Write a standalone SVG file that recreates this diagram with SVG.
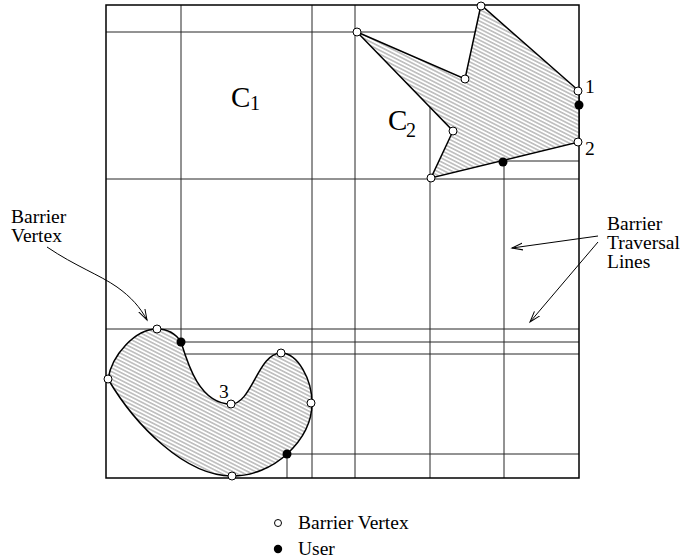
<svg xmlns="http://www.w3.org/2000/svg" width="680" height="560" viewBox="0 0 680 560">
<style>
.grid{stroke:#262626;stroke-width:1;fill:none}
.border{stroke:#000;stroke-width:1.5;fill:none}
.obst{stroke:#000;stroke-width:1.5;fill:url(#hatch)}
.vtx{stroke:#000;stroke-width:1;fill:#fff}
.usr{fill:#000;stroke:none}
.t{font-family:"Liberation Serif","Times New Roman",serif;fill:#000}
.lbl{font-size:19.5px}
.ann{stroke:#000;stroke-width:1;fill:none;marker-end:url(#arr)}
</style>
<defs>
<pattern id="hatch" patternUnits="userSpaceOnUse" width="8" height="3.4" patternTransform="rotate(27)">
<rect width="8" height="3.4" fill="#fff"/>
<line x1="0" y1="1.7" x2="8" y2="1.7" stroke="#5a5a5a" stroke-width="0.7"/>
</pattern>
<marker id="arr" markerUnits="userSpaceOnUse" markerWidth="14" markerHeight="10" refX="11" refY="4" orient="auto">
<path d="M0,0.5 L11,4 L0,7.5" fill="none" stroke="#000" stroke-width="1"/>
</marker>
</defs>

<g id="grid">
<line class="grid" x1="181" y1="5" x2="181" y2="342"/>
<line class="grid" x1="312" y1="5" x2="312" y2="478"/>
<line class="grid" x1="355" y1="5" x2="355" y2="478"/>
<line class="grid" x1="430" y1="106" x2="430" y2="478"/>
<line class="grid" x1="504" y1="162" x2="504" y2="478"/>
<line class="grid" x1="287" y1="454" x2="287" y2="478"/>
<line class="grid" x1="106" y1="32" x2="475" y2="32"/>
<line class="grid" x1="106" y1="179" x2="579" y2="179"/>
<line class="grid" x1="504" y1="161" x2="579" y2="161"/>
<line class="grid" x1="106" y1="329" x2="579" y2="329"/>
<line class="grid" x1="181" y1="342" x2="579" y2="342"/>
<line class="grid" x1="184" y1="354" x2="579" y2="354"/>
<line class="grid" x1="287" y1="454" x2="579" y2="454"/>
<rect class="border" x="106" y="5" width="473" height="473"/>
</g>

<g id="obstacle-C2">
<polygon class="obst" points="357,32 465,79 481,5 579,91 579,142 431,178 453,131"/>
</g>
<g id="obstacle-blob">
<path class="obst" d="M108,379 C112,355 135,329 157,329 C168,329 176,334 181,342 C188,365 200,404 231,404 C252,404 258,353 281,353 C298,353 312,380 312,403 C312,425 300,442 287,454 C272,468 252,476 232,476 C185,476 135,425 108,379 Z"/>
</g>

<g id="vertices">
<circle class="vtx" cx="357" cy="32" r="4"/>
<circle class="vtx" cx="465" cy="79" r="4"/>
<circle class="vtx" cx="481" cy="6" r="4"/>
<circle class="vtx" cx="578" cy="91" r="4"/>
<circle class="vtx" cx="578" cy="142" r="4"/>
<circle class="vtx" cx="431" cy="178" r="4"/>
<circle class="vtx" cx="453" cy="131" r="4"/>
<circle class="vtx" cx="157" cy="329" r="4"/>
<circle class="vtx" cx="108" cy="379" r="4"/>
<circle class="vtx" cx="231" cy="404" r="4"/>
<circle class="vtx" cx="281" cy="353" r="4"/>
<circle class="vtx" cx="311" cy="403" r="4"/>
<circle class="vtx" cx="232" cy="476" r="4"/>
</g>
<g id="users">
<circle class="usr" cx="579" cy="105" r="4.5"/>
<circle class="usr" cx="503" cy="162" r="4.5"/>
<circle class="usr" cx="181" cy="342" r="4.5"/>
<circle class="usr" cx="287" cy="454" r="4.5"/>
</g>

<g id="labels">
<text class="t" x="231" y="107" font-size="29">C</text><text class="t" x="250" y="110" font-size="20">1</text>
<text class="t" x="388" y="130" font-size="29">C</text><text class="t" x="406" y="137" font-size="20">2</text>
<text class="t lbl" x="585" y="93">1</text>
<text class="t lbl" x="585" y="155">2</text>
<text class="t lbl" x="219" y="398">3</text>
</g>

<g id="label-barrier-vertex">
<text class="t lbl" x="11" y="223">Barrier</text>
<text class="t lbl" x="11" y="242">Vertex</text>
</g>
<g id="label-traversal">
<text class="t lbl" x="607" y="230">Barrier</text>
<text class="t lbl" x="607" y="249">Traversal</text>
<text class="t lbl" x="607" y="268">Lines</text>
</g>

<g id="connectors">
<path class="ann" d="M47,247 C75,266 100,275 117,287 C131,297 140,307 147,320"/>
<line class="ann" x1="598" y1="236" x2="512" y2="248"/>
<line class="ann" x1="598" y1="242" x2="530" y2="322"/>
</g>

<g id="legend">
<circle class="vtx" cx="278" cy="523" r="3.5"/>
<text class="t lbl" x="298" y="529">Barrier Vertex</text>
<circle class="usr" cx="278" cy="549" r="4.2"/>
<text class="t lbl" x="298" y="555">User</text>
</g>
</svg>
